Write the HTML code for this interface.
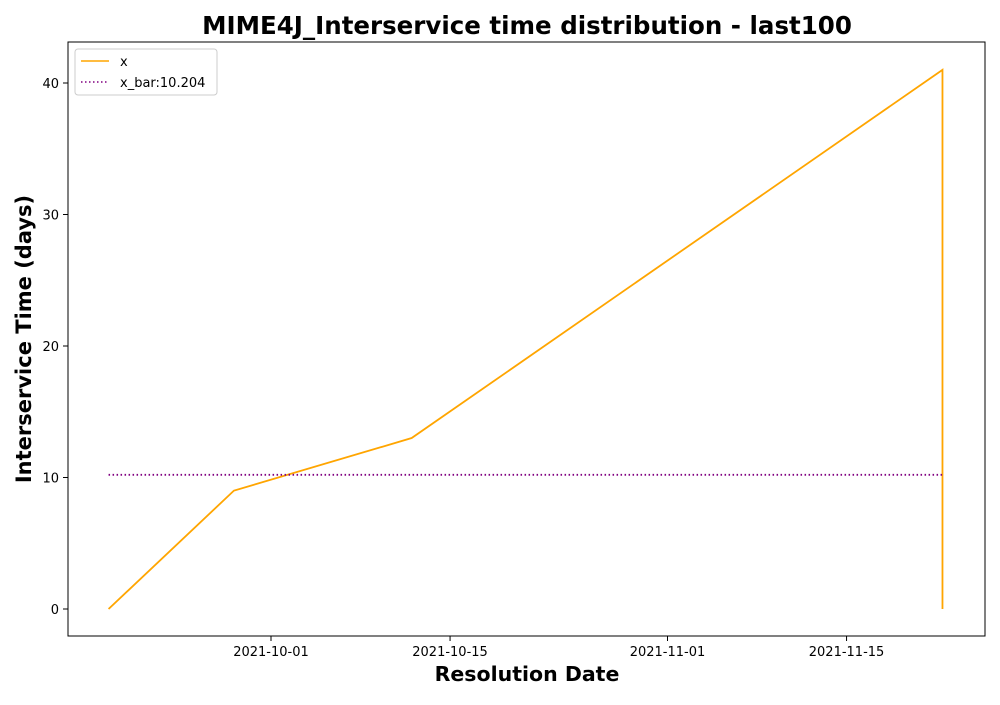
<!DOCTYPE html>
<html><head><meta charset="utf-8"><style>
body{margin:0;background:#fff;font-family:"Liberation Sans","DejaVu Sans",sans-serif}
svg text{font-family:"DejaVu Sans","Liberation Sans",sans-serif}
</style></head><body>
<svg id="chart" width="1000" height="700" xmlns="http://www.w3.org/2000/svg">
<rect width="1000" height="700" fill="#fff"/>
<text x="527" y="34" text-anchor="middle" font-size="24.5" font-weight="bold">MIME4J_Interservice time distribution - last100</text>
<g id="plot"></g>
<rect x="68" y="42" width="917" height="594" fill="none" stroke="#000" stroke-width="1"/>
<text x="527" y="681" text-anchor="middle" font-size="20.5" font-weight="bold">Resolution Date</text>
<text transform="translate(31,339) rotate(-90)" text-anchor="middle" font-size="21" font-weight="bold">Interservice Time (days)</text>
<g>
<rect x="75" y="49" width="142" height="46" rx="3" fill="#fff" stroke="#ccc"/>
<line x1="81" y1="61" x2="109" y2="61" stroke="orange" stroke-width="1.5"/>
<text x="120" y="66" font-size="13">x</text>
<line x1="81" y1="82" x2="109" y2="82" stroke="purple" stroke-width="1.5" stroke-dasharray="1.5,2.5"/>
<text x="120" y="87" font-size="13">x_bar:10.204</text>
</g>
</svg>
<script>
// day offsets relative to 2021-10-01
const dayOffsets = [-12.7, -2.9, 11.0, 52.5, 52.5];
const values = [0, 9, 13, 41, 0];
const meanValue = 10.204;
const xTickDays = [0, 14, 31, 45];
const xTickLabels = ["2021-10-01", "2021-10-15", "2021-11-01", "2021-11-15"];
const yTicks = [0, 10, 20, 30, 40];

const NS = "http://www.w3.org/2000/svg";
const g = document.getElementById("plot");
const xs = d => 271 + d * 12.79;
const ys = v => 609 - v * 13.15;
function mk(tag, attrs){const e=document.createElementNS(NS,tag);for(const k in attrs)e.setAttribute(k,attrs[k]);g.appendChild(e);return e;}
xTickDays.forEach((d,i)=>{
  const t=mk("line",{x1:xs(d),x2:xs(d),y1:636,y2:641,stroke:"#000"});
  
  
  const l=mk("text",{x:xs(d),y:656,"text-anchor":"middle","font-size":"13"});
  l.textContent=xTickLabels[i];
  
  
});
yTicks.forEach(v=>{
  const t=mk("line",{x1:63,x2:68,y1:ys(v),y2:ys(v),stroke:"#000"});
  
  
  const l=mk("text",{x:59,y:ys(v)+5,"text-anchor":"end","font-size":"13"});
  l.textContent=v;
  
  
});
const pts=dayOffsets.map((d,i)=>xs(d)+","+ys(values[i])).join(" ");
const line=mk("polyline",{points:pts,fill:"none",stroke:"orange","stroke-width":"1.8"});


const mean=mk("line",{x1:xs(dayOffsets[0]),x2:xs(dayOffsets[dayOffsets.length-1]),y1:ys(meanValue),y2:ys(meanValue),stroke:"purple","stroke-width":"1.8","stroke-dasharray":"1.5,2.5"});


</script>
</body></html>
